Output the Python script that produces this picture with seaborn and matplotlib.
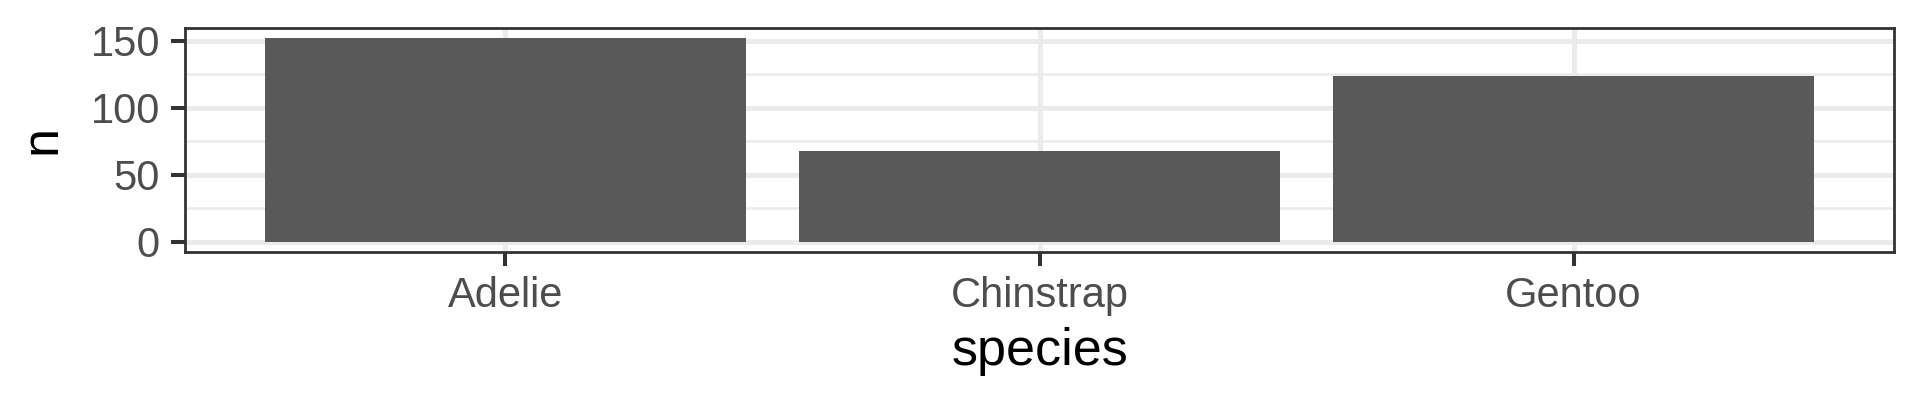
import matplotlib
matplotlib.use("Agg")
import matplotlib.pyplot as plt
import seaborn as sns
import pandas as pd

species = ["Adelie", "Chinstrap", "Gentoo"]
counts = [152, 68, 124]
y_major = [0, 50, 100, 150]
y_minor = [25, 75, 125]

sns.set_theme(style="white")
plt.rcParams['font.family'] = ['Liberation Sans', 'DejaVu Sans']

df = pd.DataFrame({"species": species, "n": counts})

fig = plt.figure(figsize=(19.2, 4.03), dpi=100)
ax = fig.add_axes([185/1920, 1-252/403, (1894-185)/1920, (252-28)/403])

grid_c = "#EBEBEB"
for v in y_minor:
    ax.axhline(v, color=grid_c, lw=1.8, zorder=0)
for v in y_major:
    ax.axhline(v, color=grid_c, lw=3.6, zorder=0)
for i in range(len(species)):
    ax.axvline(i, color=grid_c, lw=3.6, zorder=0)

sns.barplot(data=df, x="species", y="n", color="#595959", saturation=1,
            width=0.9, ax=ax, zorder=2, edgecolor="none", linewidth=0)

ax.set_xlim(-0.6, 2.6)
ax.set_ylim(-7.6, 159.6)
ax.set_yticks(y_major)
ax.set_yticklabels([str(v) for v in y_major])

for s in ax.spines.values():
    s.set_color("#333333")
    s.set_linewidth(2.0)
    s.set_zorder(5)

ax.tick_params(axis="both", which="major", length=10, width=2.9, color="#333333",
               labelsize=30, labelcolor="#4D4D4D",
               left=True, bottom=True)
ax.tick_params(axis="y", pad=8)
ax.tick_params(axis="x", pad=7.5)
ax.set_xlabel("species", fontsize=37.5, color="black", labelpad=8)
ax.set_ylabel("n", fontsize=37.5, color="black", labelpad=17)

fig.savefig("out.png", dpi=100, facecolor="white")
